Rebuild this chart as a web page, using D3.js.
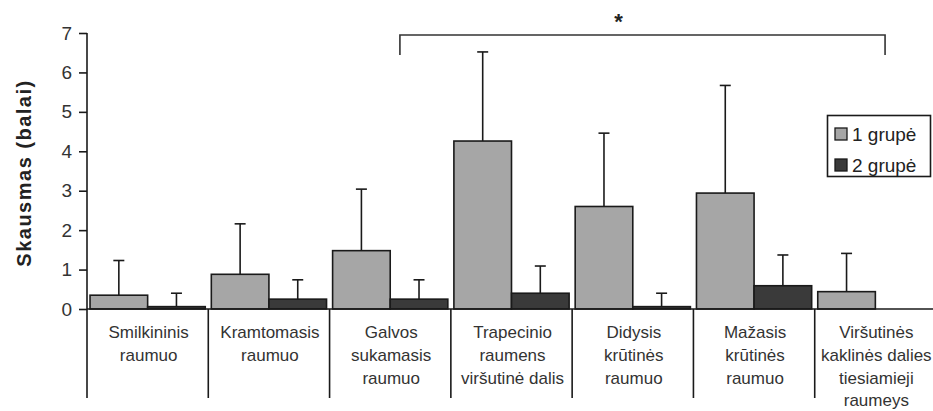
<!DOCTYPE html>
<html>
<head>
<meta charset="utf-8">
<script src="https://cdn.jsdelivr.net/npm/d3@7"></script>
<style>
  html, body { margin: 0; padding: 0; background: #fff; }
  svg { display: block; font-family: "Liberation Sans", Arial, sans-serif; }
</style>
</head>
<body>
<svg id="chart" width="933" height="411"></svg>
<script>
// ---- data ----
const categories = [
  ["Smilkininis", "raumuo"],
  ["Kramtomasis", "raumuo"],
  ["Galvos", "sukamasis", "raumuo"],
  ["Trapecinio", "raumens", "viršutinė dalis"],
  ["Didysis", "krūtinės", "raumuo"],
  ["Mažasis", "krūtinės", "raumuo"],
  ["Viršutinės", "kaklinės dalies", "tiesiamieji", "raumeys"]
];
const seriesNames = ["1 grupė", "2 grupė"];
const group1Mean = [0.35, 0.88, 1.48, 4.26, 2.60, 2.94, 0.44];
const group1Err  = [0.88, 1.28, 1.56, 2.26, 1.86, 2.73, 0.97];
const group2Mean = [0.06, 0.25, 0.25, 0.40, 0.06, 0.59, 0];
const group2Err  = [0.34, 0.49, 0.49, 0.69, 0.34, 0.78, null];
const yTicks = [0, 1, 2, 3, 4, 5, 6, 7];
const yLabel = "Skausmas (balai)";
const bracketFrom = 2, bracketTo = 6;
const sigMark = "*";

(function () {
// ---- layout ----
const svg = d3.select("#chart");
const L = 87, R = 936, T = 33, B = 309, sepBottom = 398;
const colors = ["#a6a6a6", "#3a3a3a"];

const x = d3.scaleBand().domain(d3.range(categories.length)).range([L, R]).padding(0);
const inner = d3.scaleBand().domain([0, 1])
  .range([x.bandwidth() * 0.025, x.bandwidth() * 0.975]).padding(0);
const y = d3.scaleLinear().domain([0, 7]).range([B, T]);

const data = [];
categories.forEach((c, i) => {
  data.push({ cat: i, s: 0, v: group1Mean[i], e: group1Err[i] });
  data.push({ cat: i, s: 1, v: group2Mean[i], e: group2Err[i] });
});

// error bars (upper only) behind bars
const eb = svg.append("g").attr("stroke", "#1a1a1a").attr("stroke-width", 1.6);
data.filter(d => d.e != null).forEach(d => {
  const cx = x(d.cat) + inner(d.s) + inner.bandwidth() / 2;
  eb.append("line").attr("x1", cx).attr("x2", cx).attr("y1", y(d.v)).attr("y2", y(d.v + d.e));
  eb.append("line").attr("x1", cx - 5.5).attr("x2", cx + 5.5).attr("y1", y(d.v + d.e)).attr("y2", y(d.v + d.e));
});

// bars
svg.append("g").selectAll("rect").data(data.filter(d => d.v > 0)).join("rect")
  .attr("x", d => x(d.cat) + inner(d.s))
  .attr("width", inner.bandwidth())
  .attr("y", d => y(d.v))
  .attr("height", d => y(0) - y(d.v))
  .attr("fill", d => colors[d.s])
  .attr("stroke", "#1a1a1a")
  .attr("stroke-width", 1.6);

// y axis
const yAxis = svg.append("g").attr("transform", `translate(${L},0)`)
  .call(d3.axisLeft(y).tickValues(yTicks).tickFormat(d3.format("d")).tickSize(8).tickPadding(7));
yAxis.select(".domain").remove();
yAxis.selectAll(".tick line").attr("stroke", "#1a1a1a").attr("stroke-width", 1.6);
yAxis.selectAll(".tick text").attr("font-size", 19).attr("fill", "#333")
  .attr("font-family", "Liberation Sans, Arial, sans-serif");
svg.append("line").attr("x1", L).attr("x2", L).attr("y1", T).attr("y2", sepBottom)
  .attr("stroke", "#1a1a1a").attr("stroke-width", 1.6);

// x axis baseline and category separators
svg.append("line").attr("x1", L).attr("x2", 933).attr("y1", y(0)).attr("y2", y(0))
  .attr("stroke", "#1a1a1a").attr("stroke-width", 1.6);
const sep = svg.append("g").attr("stroke", "#1a1a1a").attr("stroke-width", 1.6);
d3.range(1, categories.length).forEach(i => {
  sep.append("line").attr("x1", x(i)).attr("x2", x(i)).attr("y1", y(0)).attr("y2", sepBottom);
});

// category labels
const catG = svg.append("g").attr("font-size", 17).attr("fill", "#333").attr("text-anchor", "middle");
categories.forEach((lines, i) => {
  const cx = x(i) + x.bandwidth() / 2 + 1;
  const t = catG.append("text").attr("x", cx).attr("y", 338);
  lines.forEach((ln, k) => t.append("tspan").attr("x", cx)
    .attr("dy", k === 0 ? 0 : 22.8).text(ln));
});

// y label
svg.append("text").attr("transform", `translate(31,173) rotate(-90)`)
  .attr("text-anchor", "middle").attr("font-size", 20).attr("font-weight", "bold")
  .attr("letter-spacing", 1.5).attr("fill", "#222").text(yLabel);

// significance bracket
const bx1 = x(bracketFrom) + x.bandwidth() * 0.58;
const bx2 = x(bracketTo) + x.bandwidth() * 0.58;
svg.append("path")
  .attr("d", `M${bx1},55 V35 H${bx2} V55`)
  .attr("fill", "none").attr("stroke", "#333").attr("stroke-width", 1.6);
svg.append("text").attr("x", (bx1 + bx2) / 2 - 24).attr("y", 29).attr("text-anchor", "middle")
  .attr("font-size", 22).attr("font-weight", "bold").attr("fill", "#222").text(sigMark);

// legend
const lg = svg.append("g");
lg.append("rect").attr("x", 827.5).attr("y", 115.5).attr("width", 103).attr("height", 61)
  .attr("fill", "#fff").attr("stroke", "#1a1a1a").attr("stroke-width", 1.6);
seriesNames.forEach((n, i) => {
  const cy = 134 + i * 31;
  lg.append("rect").attr("x", 835).attr("y", cy - 6).attr("width", 12).attr("height", 12)
    .attr("fill", colors[i]).attr("stroke", "#1a1a1a").attr("stroke-width", 1.3);
  lg.append("text").attr("x", 852).attr("y", cy + 7).attr("font-size", 19).attr("fill", "#222").text(n);
});
})();
</script>
</body>
</html>
